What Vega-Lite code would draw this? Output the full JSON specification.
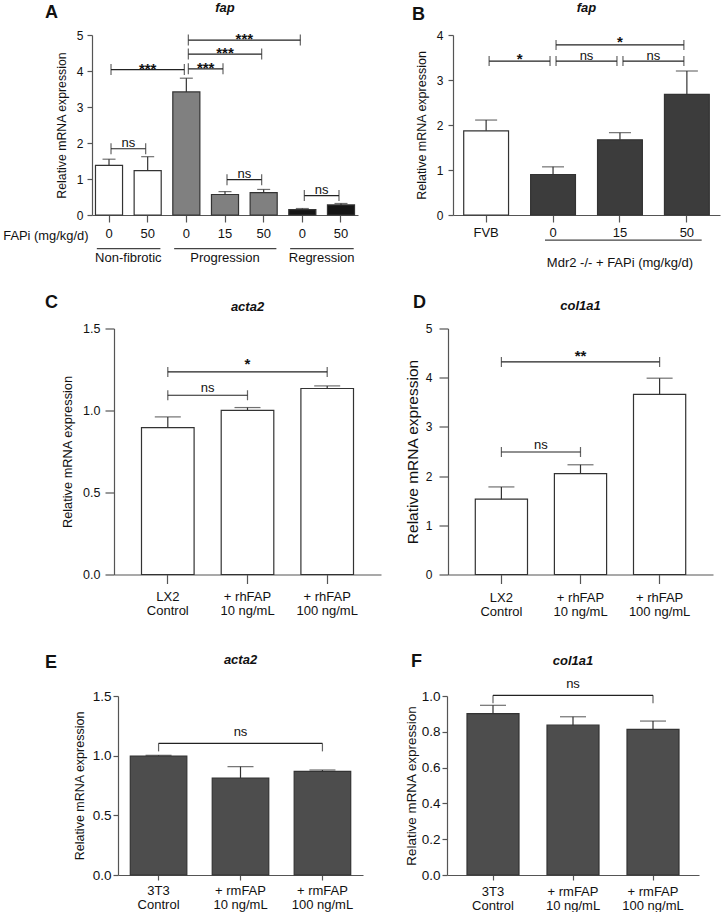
{
"$schema": "https://vega.github.io/schema/vega-lite/v6.json",
"background": "white",
"padding": {"left": 2, "top": 2, "right": 2, "bottom": 2},
"config": {
  "view": {"stroke": null},
  "font": "Liberation Sans",
  "axis": {"domainColor": "#555", "tickColor": "#555", "labelColor": "#111", "titleColor": "#111", "grid": false, "labelFont": "Liberation Sans", "titleFont": "Liberation Sans", "titleFontWeight": "normal", "domainWidth": 1.2, "tickWidth": 1.2},
  "axisX": {"labelFontSize": 13, "labelAngle": 0, "labelOverlap": false, "labelLineHeight": 14, "labelBaseline": "top"},
  "axisY": {"titleFontSize": 12.5, "labelFontSize": 12, "labelOverlap": false, "tickCount": 12},
  "title": {"font": "Liberation Sans", "color": "#111"},
  "text": {"font": "Liberation Sans", "color": "#111"}
},
"datasets": {
  "A_bars": [
    {"cat": "NF|0", "group": "Non-fibrotic", "mean": 1.38, "err": 1.55},
    {"cat": "NF|50", "group": "Non-fibrotic", "mean": 1.23, "err": 1.62},
    {"cat": "P|0", "group": "Progression", "mean": 3.42, "err": 3.80},
    {"cat": "P|15", "group": "Progression", "mean": 0.57, "err": 0.65},
    {"cat": "P|50", "group": "Progression", "mean": 0.62, "err": 0.71},
    {"cat": "R|0", "group": "Regression", "mean": 0.15, "err": 0.18},
    {"cat": "R|50", "group": "Regression", "mean": 0.28, "err": 0.32}
  ],
  "A_br": [
    {"from": "NF|0", "to": "P|0", "y": 4.04, "label": "***", "mid": "NF|50", "edge": false},
    {"from": "P|0", "to": "P|15", "y": 4.06, "label": "***", "mid": "P|0", "edge": true},
    {"from": "P|0", "to": "P|50", "y": 4.47, "label": "***", "mid": "P|15", "edge": false},
    {"from": "P|0", "to": "R|0", "y": 4.86, "label": "***", "mid": "P|15", "edge": true},
    {"from": "NF|0", "to": "NF|50", "y": 1.84, "label": "ns", "mid": "NF|0", "edge": true},
    {"from": "P|15", "to": "P|50", "y": 0.98, "label": "ns", "mid": "P|15", "edge": true},
    {"from": "R|0", "to": "R|50", "y": 0.54, "label": "ns", "mid": "R|0", "edge": true}
  ],
  "A_grp": [
    {"start": "NF|0", "end": "NF|50", "y": -0.935, "label": "Non-fibrotic", "mid": "NF|0", "edge": true},
    {"start": "P|0", "end": "P|50", "y": -0.935, "label": "Progression", "mid": "P|15", "edge": false},
    {"start": "R|0", "end": "R|50", "y": -0.935, "label": "Regression", "mid": "R|0", "edge": true}
  ],
  "B_bars": [
    {"cat": "FVB", "group": "FVB", "mean": 1.87, "err": 2.11},
    {"cat": "0", "group": "Mdr2", "mean": 0.90, "err": 1.07},
    {"cat": "15", "group": "Mdr2", "mean": 1.67, "err": 1.83},
    {"cat": "50", "group": "Mdr2", "mean": 2.68, "err": 3.20}
  ],
  "B_br": [
    {"from": "FVB", "to": "0", "y": 3.42, "label": "*", "mid": "FVB", "edge": true},
    {"from": "0", "to": "15", "y": 3.42, "label": "ns", "mid": "0", "edge": true},
    {"from": "15", "to": "50", "y": 3.42, "label": "ns", "mid": "15", "edge": true},
    {"from": "0", "to": "50", "y": 3.78, "label": "*", "mid": "15", "edge": false}
  ],
  "B_grp": [
    {"start": "0", "end": "50", "y": -0.56, "label": "Mdr2 -/- + FAPi (mg/kg/d)", "mid": "15"}
  ],
  "C_bars": [
    {"cat": "LX2|Control", "mean": 0.896, "err": 0.961},
    {"cat": "+ rhFAP|10 ng/mL", "mean": 1.001, "err": 1.018},
    {"cat": "+ rhFAP|100 ng/mL", "mean": 1.134, "err": 1.15}
  ],
  "C_br": [
    {"from": "LX2|Control", "to": "+ rhFAP|10 ng/mL", "y": 1.093, "label": "ns", "mid": "LX2|Control", "edge": true},
    {"from": "LX2|Control", "to": "+ rhFAP|100 ng/mL", "y": 1.235, "label": "*", "mid": "+ rhFAP|10 ng/mL", "edge": false}
  ],
  "D_bars": [
    {"cat": "LX2|Control", "mean": 1.53, "err": 1.78},
    {"cat": "+ rhFAP|10 ng/mL", "mean": 2.05, "err": 2.23},
    {"cat": "+ rhFAP|100 ng/mL", "mean": 3.66, "err": 3.99}
  ],
  "D_br": [
    {"from": "LX2|Control", "to": "+ rhFAP|10 ng/mL", "y": 2.49, "label": "ns", "mid": "LX2|Control", "edge": true},
    {"from": "LX2|Control", "to": "+ rhFAP|100 ng/mL", "y": 4.32, "label": "**", "mid": "+ rhFAP|10 ng/mL", "edge": false}
  ],
  "E_bars": [
    {"cat": "3T3|Control", "mean": 0.997, "err": 1.003},
    {"cat": "+ rmFAP|10 ng/mL", "mean": 0.813, "err": 0.908},
    {"cat": "+ rmFAP|100 ng/mL", "mean": 0.869, "err": 0.88}
  ],
  "E_br": [
    {"from": "3T3|Control", "to": "+ rmFAP|100 ng/mL", "y": 1.103, "label": "ns", "mid": "+ rmFAP|10 ng/mL"}
  ],
  "F_bars": [
    {"cat": "3T3|Control", "mean": 0.901, "err": 0.948},
    {"cat": "+ rmFAP|10 ng/mL", "mean": 0.837, "err": 0.884},
    {"cat": "+ rmFAP|100 ng/mL", "mean": 0.813, "err": 0.86}
  ],
  "F_br": [
    {"from": "3T3|Control", "to": "+ rmFAP|100 ng/mL", "y": 1.004, "label": "ns", "mid": "+ rmFAP|10 ng/mL"}
  ]
},
"vconcat": [
 {"vconcat": [
  {"hconcat": [
   {"hconcat": [
    {"width": 1, "height": 1, "data": {"values": [{}]}, "mark": {"type": "text", "text": ""}, "encoding": {},
     "title": {"text": "A", "anchor": "start", "fontSize": 18, "fontWeight": "bold", "offset": 7.5}},
    {"width": 266, "height": 180,
     "title": {"text": "fap", "fontSize": 13, "fontStyle": "italic", "fontWeight": "bold", "anchor": "middle", "frame": "group", "offset": 14},
     "layer": [
      {"data": {"name": "A_bars"}, "mark": {"type": "bar", "stroke": "#333", "strokeWidth": 1.2},
       "encoding": {
        "x": {"field": "cat", "type": "nominal", "sort": null,
              "scale": {"domain": ["NF|0", "NF|50", "P|0", "P|15", "P|50", "R|0", "R|50"], "paddingInner": 0.3, "paddingOuter": 0.09},
              "axis": {"title": "FAPi (mg/kg/d)", "labelExpr": "split(datum.value, '|')[1]", "tickSize": 7, "labelPadding": 5, "titleFontSize": 12.9, "titleX": -4, "titleY": 20, "titleAlign": "right", "titleBaseline": "middle", "titleAnchor": "start", "titleAngle": 0}},
        "y": {"field": "mean", "type": "quantitative", "scale": {"domain": [0, 5], "nice": false},
              "axis": {"title": "Relative mRNA expression", "values": [0, 1, 2, 3, 4, 5], "format": "d", "tickCount": 12, "labelOverlap": false, "tickSize": 5, "labelPadding": 4, "labelFontSize": 12, "titleFontSize": 12.3, "titlePadding": 8}},
        "fill": {"field": "group", "type": "nominal", "scale": {"domain": ["Non-fibrotic", "Progression", "Regression"], "range": ["#ffffff", "#808080", "#161616"]}, "legend": null}
       }},
      {"data": {"name": "A_bars"}, "mark": {"type": "rule", "color": "#333", "strokeWidth": 1.2},
       "encoding": {"x": {"field": "cat", "type": "nominal"}, "y": {"field": "mean", "type": "quantitative"}, "y2": {"field": "err"}}},
      {"data": {"name": "A_bars"}, "mark": {"type": "tick", "orient": "horizontal", "size": 13, "thickness": 1.2, "color": "#333"},
       "encoding": {"x": {"field": "cat", "type": "nominal"}, "y": {"field": "err", "type": "quantitative"}}},
      {"data": {"name": "A_br"}, "mark": {"type": "rule", "color": "#222", "strokeWidth": 1.2, "xOffset": 2, "x2Offset": -2},
       "encoding": {"x": {"field": "from", "type": "nominal"}, "x2": {"field": "to"}, "y": {"field": "y", "type": "quantitative"}}},
      {"data": {"name": "A_br"}, "mark": {"type": "tick", "orient": "vertical", "size": 11, "thickness": 1.2, "color": "#222", "xOffset": 2},
       "encoding": {"x": {"field": "from", "type": "nominal"}, "y": {"field": "y", "type": "quantitative"}}},
      {"data": {"name": "A_br"}, "mark": {"type": "tick", "orient": "vertical", "size": 11, "thickness": 1.2, "color": "#222", "xOffset": -2},
       "encoding": {"x": {"field": "to", "type": "nominal"}, "y": {"field": "y", "type": "quantitative"}}},
      {"data": {"name": "A_br"}, "transform": [{"filter": "datum.label != 'ns' && !datum.edge"}],
       "mark": {"type": "text", "fontSize": 15, "fontWeight": "bold", "baseline": "alphabetic", "dy": 4},
       "encoding": {"x": {"field": "mid", "type": "nominal", "bandPosition": 0.5}, "y": {"field": "y", "type": "quantitative"}, "text": {"field": "label"}}},
      {"data": {"name": "A_br"}, "transform": [{"filter": "datum.label != 'ns' && datum.edge"}],
       "mark": {"type": "text", "fontSize": 15, "fontWeight": "bold", "baseline": "alphabetic", "dy": 4},
       "encoding": {"x": {"field": "mid", "type": "nominal", "bandPosition": 1.214}, "y": {"field": "y", "type": "quantitative"}, "text": {"field": "label"}}},
      {"data": {"name": "A_br"}, "transform": [{"filter": "datum.label == 'ns'"}],
       "mark": {"type": "text", "fontSize": 13, "baseline": "alphabetic", "dy": -2},
       "encoding": {"x": {"field": "mid", "type": "nominal", "bandPosition": 1.214}, "y": {"field": "y", "type": "quantitative"}, "text": {"field": "label"}}},
      {"data": {"name": "A_grp"}, "mark": {"type": "rule", "color": "#444", "strokeWidth": 1.2},
       "encoding": {"x": {"field": "start", "type": "nominal", "bandPosition": 0.05}, "x2": {"field": "end", "bandPosition": 0.97}, "y": {"field": "y", "type": "quantitative"}}},
      {"data": {"name": "A_grp"}, "transform": [{"filter": "datum.edge"}],
       "mark": {"type": "text", "fontSize": 13, "baseline": "middle", "dy": 9},
       "encoding": {"x": {"field": "mid", "type": "nominal", "bandPosition": 1.214}, "y": {"field": "y", "type": "quantitative"}, "text": {"field": "label"}}},
      {"data": {"name": "A_grp"}, "transform": [{"filter": "!datum.edge"}],
       "mark": {"type": "text", "fontSize": 13, "baseline": "middle", "dy": 9},
       "encoding": {"x": {"field": "mid", "type": "nominal", "bandPosition": 0.5}, "y": {"field": "y", "type": "quantitative"}, "text": {"field": "label"}}}
     ]}
   ], "spacing": -56},
   {"hconcat": [
    {"width": 1, "height": 1, "data": {"values": [{}]}, "mark": {"type": "text", "text": ""}, "encoding": {},
     "title": {"text": "B", "anchor": "start", "fontSize": 18, "fontWeight": "bold", "offset": 6}},
    {"width": 267, "height": 180,
     "title": {"text": "fap", "fontSize": 13, "fontStyle": "italic", "fontWeight": "bold", "anchor": "middle", "frame": "group", "offset": 14},
     "layer": [
      {"data": {"name": "B_bars"}, "mark": {"type": "bar", "stroke": "#333", "strokeWidth": 1.2},
       "encoding": {
        "x": {"field": "cat", "type": "nominal", "sort": null,
              "scale": {"domain": ["FVB", "0", "15", "50"], "paddingInner": 0.33, "paddingOuter": 0.16},
              "axis": {"title": null, "tickSize": 7, "labelPadding": 4}},
        "y": {"field": "mean", "type": "quantitative", "scale": {"domain": [0, 4], "nice": false},
              "axis": {"title": "Relative mRNA expression", "values": [0, 1, 2, 3, 4], "format": "d", "tickCount": 12, "labelOverlap": false, "tickSize": 5, "labelPadding": 5, "labelFontSize": 12, "titleFontSize": 12.5, "titlePadding": 8}},
        "fill": {"field": "group", "type": "nominal", "scale": {"domain": ["FVB", "Mdr2"], "range": ["#ffffff", "#3c3c3c"]}, "legend": null}
       }},
      {"data": {"name": "B_bars"}, "mark": {"type": "rule", "color": "#333", "strokeWidth": 1.2},
       "encoding": {"x": {"field": "cat", "type": "nominal"}, "y": {"field": "mean", "type": "quantitative"}, "y2": {"field": "err"}}},
      {"data": {"name": "B_bars"}, "mark": {"type": "tick", "orient": "horizontal", "size": 22, "thickness": 1.2, "color": "#333"},
       "encoding": {"x": {"field": "cat", "type": "nominal"}, "y": {"field": "err", "type": "quantitative"}}},
      {"data": {"name": "B_br"}, "mark": {"type": "rule", "color": "#222", "strokeWidth": 1.2, "xOffset": 3, "x2Offset": -3},
       "encoding": {"x": {"field": "from", "type": "nominal"}, "x2": {"field": "to"}, "y": {"field": "y", "type": "quantitative"}}},
      {"data": {"name": "B_br"}, "mark": {"type": "tick", "orient": "vertical", "size": 10, "thickness": 1.2, "color": "#222", "xOffset": 3},
       "encoding": {"x": {"field": "from", "type": "nominal"}, "y": {"field": "y", "type": "quantitative"}}},
      {"data": {"name": "B_br"}, "mark": {"type": "tick", "orient": "vertical", "size": 10, "thickness": 1.2, "color": "#222", "xOffset": -3},
       "encoding": {"x": {"field": "to", "type": "nominal"}, "y": {"field": "y", "type": "quantitative"}}},
      {"data": {"name": "B_br"}, "transform": [{"filter": "datum.label != 'ns' && !datum.edge"}],
       "mark": {"type": "text", "fontSize": 15, "fontWeight": "bold", "baseline": "alphabetic", "dy": 2.5},
       "encoding": {"x": {"field": "mid", "type": "nominal", "bandPosition": 0.5}, "y": {"field": "y", "type": "quantitative"}, "text": {"field": "label"}}},
      {"data": {"name": "B_br"}, "transform": [{"filter": "datum.label != 'ns' && datum.edge"}],
       "mark": {"type": "text", "fontSize": 15, "fontWeight": "bold", "baseline": "alphabetic", "dy": 2.5},
       "encoding": {"x": {"field": "mid", "type": "nominal", "bandPosition": 1.246}, "y": {"field": "y", "type": "quantitative"}, "text": {"field": "label"}}},
      {"data": {"name": "B_br"}, "transform": [{"filter": "datum.label == 'ns'"}],
       "mark": {"type": "text", "fontSize": 13, "baseline": "alphabetic", "dy": -1.5},
       "encoding": {"x": {"field": "mid", "type": "nominal", "bandPosition": 1.246}, "y": {"field": "y", "type": "quantitative"}, "text": {"field": "label"}}},
      {"data": {"name": "B_grp"}, "mark": {"type": "rule", "color": "#444", "strokeWidth": 1.2},
       "encoding": {"x": {"field": "start", "type": "nominal", "bandPosition": 0.32}, "x2": {"field": "end", "bandPosition": 0.83}, "y": {"field": "y", "type": "quantitative"}}},
      {"data": {"name": "B_grp"},
       "mark": {"type": "text", "fontSize": 13, "baseline": "middle", "dy": 23},
       "encoding": {"x": {"field": "mid", "type": "nominal", "bandPosition": 0.5}, "y": {"field": "y", "type": "quantitative"}, "text": {"field": "label"}}}
     ]}
   ], "spacing": -10}
  ], "spacing": 54, "resolve": {"scale": {"fill": "independent"}}},
  {"hconcat": [
   {"hconcat": [
    {"width": 1, "height": 1, "data": {"values": [{}]}, "mark": {"type": "text", "text": ""}, "encoding": {},
     "title": {"text": "C", "anchor": "start", "fontSize": 18, "fontWeight": "bold", "offset": 11}},
    {"width": 267, "height": 246,
     "title": {"text": "acta2", "fontSize": 13, "fontStyle": "italic", "fontWeight": "bold", "anchor": "middle", "frame": "group", "offset": 8.25},
     "layer": [
      {"data": {"name": "C_bars"}, "mark": {"type": "bar", "stroke": "#333", "strokeWidth": 1.2, "fill": "#ffffff"},
       "encoding": {
        "x": {"field": "cat", "type": "nominal", "sort": null,
              "scale": {"domain": ["LX2|Control", "+ rhFAP|10 ng/mL", "+ rhFAP|100 ng/mL"], "paddingInner": 0.34, "paddingOuter": 0.345},
              "axis": {"title": null, "labelExpr": "split(datum.value, '|')", "tickSize": 9, "labelPadding": 7}},
        "y": {"field": "mean", "type": "quantitative", "scale": {"domain": [0, 1.5], "nice": false},
              "axis": {"title": "Relative mRNA expression", "values": [0, 0.5, 1, 1.5], "tickCount": 12, "format": ".1f", "labelOverlap": false, "tickSize": 9, "labelPadding": 5, "labelFontSize": 12.5, "titleFontSize": 12.8, "titlePadding": 8}}
       }},
      {"data": {"name": "C_bars"}, "mark": {"type": "rule", "color": "#333", "strokeWidth": 1.2},
       "encoding": {"x": {"field": "cat", "type": "nominal"}, "y": {"field": "mean", "type": "quantitative"}, "y2": {"field": "err"}}},
      {"data": {"name": "C_bars"}, "mark": {"type": "tick", "orient": "horizontal", "size": 26, "thickness": 1.2, "color": "#333"},
       "encoding": {"x": {"field": "cat", "type": "nominal"}, "y": {"field": "err", "type": "quantitative"}}},
      {"data": {"name": "C_br"}, "mark": {"type": "rule", "color": "#222", "strokeWidth": 1.2},
       "encoding": {"x": {"field": "from", "type": "nominal"}, "x2": {"field": "to"}, "y": {"field": "y", "type": "quantitative"}}},
      {"data": {"name": "C_br"}, "mark": {"type": "tick", "orient": "vertical", "size": 10, "thickness": 1.2, "color": "#222"},
       "encoding": {"x": {"field": "from", "type": "nominal"}, "y": {"field": "y", "type": "quantitative"}}},
      {"data": {"name": "C_br"}, "mark": {"type": "tick", "orient": "vertical", "size": 10, "thickness": 1.2, "color": "#222"},
       "encoding": {"x": {"field": "to", "type": "nominal"}, "y": {"field": "y", "type": "quantitative"}}},
      {"data": {"name": "C_br"}, "transform": [{"filter": "datum.label != 'ns'"}],
       "mark": {"type": "text", "fontSize": 15, "fontWeight": "bold", "baseline": "alphabetic", "dy": -3},
       "encoding": {"x": {"field": "mid", "type": "nominal", "bandPosition": 0.5}, "y": {"field": "y", "type": "quantitative"}, "text": {"field": "label"}}},
      {"data": {"name": "C_br"}, "transform": [{"filter": "datum.label == 'ns'"}],
       "mark": {"type": "text", "fontSize": 13, "baseline": "alphabetic", "dy": -3},
       "encoding": {"x": {"field": "mid", "type": "nominal", "bandPosition": 1.258}, "y": {"field": "y", "type": "quantitative"}, "text": {"field": "label"}}}
     ]}
   ], "spacing": 3},
   {"hconcat": [
    {"width": 1, "height": 1, "data": {"values": [{}]}, "mark": {"type": "text", "text": ""}, "encoding": {},
     "title": {"text": "D", "anchor": "start", "fontSize": 18, "fontWeight": "bold", "offset": 11}},
    {"width": 265, "height": 246,
     "title": {"text": "col1a1", "fontSize": 13, "fontStyle": "italic", "fontWeight": "bold", "anchor": "middle", "frame": "group", "offset": 9.5},
     "layer": [
      {"data": {"name": "D_bars"}, "mark": {"type": "bar", "stroke": "#333", "strokeWidth": 1.2, "fill": "#ffffff"},
       "encoding": {
        "x": {"field": "cat", "type": "nominal", "sort": null,
              "scale": {"domain": ["LX2|Control", "+ rhFAP|10 ng/mL", "+ rhFAP|100 ng/mL"], "paddingInner": 0.34, "paddingOuter": 0.345},
              "axis": {"title": null, "labelExpr": "split(datum.value, '|')", "tickSize": 9, "labelPadding": 8}},
        "y": {"field": "mean", "type": "quantitative", "scale": {"domain": [0, 5], "nice": false},
              "axis": {"title": "Relative mRNA expression", "values": [0, 1, 2, 3, 4, 5], "format": "d", "tickCount": 12, "labelOverlap": false, "tickSize": 9, "labelPadding": 7, "labelFontSize": 12, "titleFontSize": 15.5, "titlePadding": 5}}
       }},
      {"data": {"name": "D_bars"}, "mark": {"type": "rule", "color": "#333", "strokeWidth": 1.2},
       "encoding": {"x": {"field": "cat", "type": "nominal"}, "y": {"field": "mean", "type": "quantitative"}, "y2": {"field": "err"}}},
      {"data": {"name": "D_bars"}, "mark": {"type": "tick", "orient": "horizontal", "size": 26, "thickness": 1.2, "color": "#333"},
       "encoding": {"x": {"field": "cat", "type": "nominal"}, "y": {"field": "err", "type": "quantitative"}}},
      {"data": {"name": "D_br"}, "mark": {"type": "rule", "color": "#222", "strokeWidth": 1.2},
       "encoding": {"x": {"field": "from", "type": "nominal"}, "x2": {"field": "to"}, "y": {"field": "y", "type": "quantitative"}}},
      {"data": {"name": "D_br"}, "mark": {"type": "tick", "orient": "vertical", "size": 10, "thickness": 1.2, "color": "#222"},
       "encoding": {"x": {"field": "from", "type": "nominal"}, "y": {"field": "y", "type": "quantitative"}}},
      {"data": {"name": "D_br"}, "mark": {"type": "tick", "orient": "vertical", "size": 10, "thickness": 1.2, "color": "#222"},
       "encoding": {"x": {"field": "to", "type": "nominal"}, "y": {"field": "y", "type": "quantitative"}}},
      {"data": {"name": "D_br"}, "transform": [{"filter": "datum.label != 'ns'"}],
       "mark": {"type": "text", "fontSize": 15, "fontWeight": "bold", "baseline": "alphabetic", "dy": -1},
       "encoding": {"x": {"field": "mid", "type": "nominal", "bandPosition": 0.5}, "y": {"field": "y", "type": "quantitative"}, "text": {"field": "label"}}},
      {"data": {"name": "D_br"}, "transform": [{"filter": "datum.label == 'ns'"}],
       "mark": {"type": "text", "fontSize": 13, "baseline": "alphabetic", "dy": -3},
       "encoding": {"x": {"field": "mid", "type": "nominal", "bandPosition": 1.258}, "y": {"field": "y", "type": "quantitative"}, "text": {"field": "label"}}}
     ]}
   ], "spacing": -21}
  ], "spacing": 24}
 ], "spacing": 22.5},
 {"hconcat": [
  {"hconcat": [
   {"width": 1, "height": 1, "data": {"values": [{}]}, "mark": {"type": "text", "text": ""}, "encoding": {},
    "title": {"text": "E", "anchor": "start", "fontSize": 18, "fontWeight": "bold", "offset": 18.5}},
   {"width": 245, "height": 179,
    "title": {"text": "acta2", "fontSize": 13, "fontStyle": "italic", "fontWeight": "bold", "anchor": "middle", "frame": "group", "offset": 22.5},
    "layer": [
     {"data": {"name": "E_bars"}, "mark": {"type": "bar", "stroke": "#333", "strokeWidth": 1.2, "fill": "#4d4d4d"},
      "encoding": {
       "x": {"field": "cat", "type": "nominal", "sort": null,
             "scale": {"domain": ["3T3|Control", "+ rmFAP|10 ng/mL", "+ rmFAP|100 ng/mL"], "paddingInner": 0.31, "paddingOuter": 0.15},
             "axis": {"title": null, "labelExpr": "split(datum.value, '|')", "tickSize": 5, "labelPadding": 4}},
       "y": {"field": "mean", "type": "quantitative", "scale": {"domain": [0, 1.5], "nice": false},
             "axis": {"title": "Relative mRNA expression", "values": [0, 0.5, 1, 1.5], "tickCount": 12, "format": ".1f", "labelOverlap": false, "tickSize": 5, "labelPadding": 2, "labelFontSize": 13.5, "titleFontSize": 12.5, "titlePadding": 6}}
      }},
     {"data": {"name": "E_bars"}, "mark": {"type": "rule", "color": "#333", "strokeWidth": 1.2},
      "encoding": {"x": {"field": "cat", "type": "nominal"}, "y": {"field": "mean", "type": "quantitative"}, "y2": {"field": "err"}}},
     {"data": {"name": "E_bars"}, "mark": {"type": "tick", "orient": "horizontal", "size": 26, "thickness": 1.2, "color": "#333"},
      "encoding": {"x": {"field": "cat", "type": "nominal"}, "y": {"field": "err", "type": "quantitative"}}},
     {"data": {"name": "E_br"}, "mark": {"type": "rule", "color": "#222", "strokeWidth": 1.2},
      "encoding": {"x": {"field": "from", "type": "nominal"}, "x2": {"field": "to"}, "y": {"field": "y", "type": "quantitative"}}},
     {"data": {"name": "E_br"}, "mark": {"type": "tick", "orient": "vertical", "size": 8, "thickness": 1.2, "color": "#222", "yOffset": 4},
      "encoding": {"x": {"field": "from", "type": "nominal"}, "y": {"field": "y", "type": "quantitative"}}},
     {"data": {"name": "E_br"}, "mark": {"type": "tick", "orient": "vertical", "size": 8, "thickness": 1.2, "color": "#222", "yOffset": 4},
      "encoding": {"x": {"field": "to", "type": "nominal"}, "y": {"field": "y", "type": "quantitative"}}},
     {"data": {"name": "E_br"},
      "mark": {"type": "text", "fontSize": 13, "baseline": "alphabetic", "dy": -7},
      "encoding": {"x": {"field": "mid", "type": "nominal", "bandPosition": 0.5}, "y": {"field": "y", "type": "quantitative"}, "text": {"field": "label"}}}
    ]}
  ], "spacing": 15},
  {"hconcat": [
   {"width": 1, "height": 1, "data": {"values": [{}]}, "mark": {"type": "text", "text": ""}, "encoding": {},
    "title": {"text": "F", "anchor": "start", "fontSize": 18, "fontWeight": "bold", "offset": 19.5}},
   {"width": 252, "height": 179,
    "title": {"text": "col1a1", "fontSize": 13, "fontStyle": "italic", "fontWeight": "bold", "anchor": "middle", "frame": "group", "offset": 10.5},
    "layer": [
     {"data": {"name": "F_bars"}, "mark": {"type": "bar", "stroke": "#333", "strokeWidth": 1.2, "fill": "#4d4d4d"},
      "encoding": {
       "x": {"field": "cat", "type": "nominal", "sort": null,
             "scale": {"domain": ["3T3|Control", "+ rmFAP|10 ng/mL", "+ rmFAP|100 ng/mL"], "paddingInner": 0.35, "paddingOuter": 0.25},
             "axis": {"title": null, "labelExpr": "split(datum.value, '|')", "tickSize": 5, "labelPadding": 5}},
       "y": {"field": "mean", "type": "quantitative", "scale": {"domain": [0, 1], "nice": false},
             "axis": {"title": "Relative mRNA expression", "values": [0, 0.2, 0.4, 0.6, 0.8, 1], "tickCount": 12, "format": ".1f", "labelOverlap": false, "tickSize": 5, "labelPadding": 2, "labelFontSize": 13.5, "titleFontSize": 13.4, "titlePadding": 3}}
      }},
     {"data": {"name": "F_bars"}, "mark": {"type": "rule", "color": "#333", "strokeWidth": 1.2},
      "encoding": {"x": {"field": "cat", "type": "nominal"}, "y": {"field": "mean", "type": "quantitative"}, "y2": {"field": "err"}}},
     {"data": {"name": "F_bars"}, "mark": {"type": "tick", "orient": "horizontal", "size": 26, "thickness": 1.2, "color": "#333"},
      "encoding": {"x": {"field": "cat", "type": "nominal"}, "y": {"field": "err", "type": "quantitative"}}},
     {"data": {"name": "F_br"}, "mark": {"type": "rule", "color": "#222", "strokeWidth": 1.2},
      "encoding": {"x": {"field": "from", "type": "nominal"}, "x2": {"field": "to"}, "y": {"field": "y", "type": "quantitative"}}},
     {"data": {"name": "F_br"}, "mark": {"type": "tick", "orient": "vertical", "size": 8, "thickness": 1.2, "color": "#222", "yOffset": 4},
      "encoding": {"x": {"field": "from", "type": "nominal"}, "y": {"field": "y", "type": "quantitative"}}},
     {"data": {"name": "F_br"}, "mark": {"type": "tick", "orient": "vertical", "size": 8, "thickness": 1.2, "color": "#222", "yOffset": 4},
      "encoding": {"x": {"field": "to", "type": "nominal"}, "y": {"field": "y", "type": "quantitative"}}},
     {"data": {"name": "F_br"},
      "mark": {"type": "text", "fontSize": 13, "baseline": "alphabetic", "dy": -7},
      "encoding": {"x": {"field": "mid", "type": "nominal", "bandPosition": 0.5}, "y": {"field": "y", "type": "quantitative"}, "text": {"field": "label"}}}
    ]}
  ], "spacing": -18}
 ], "spacing": 41}
],
"spacing": 34
}
